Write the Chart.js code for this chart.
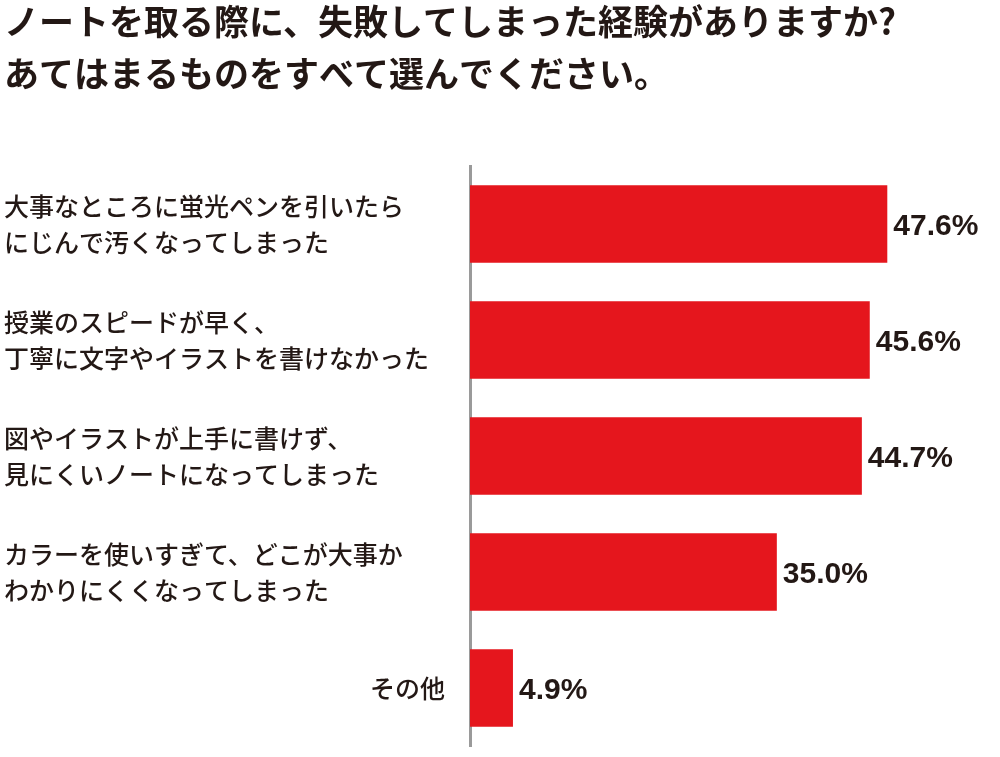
<!DOCTYPE html>
<html><head><meta charset="utf-8">
<script src="https://cdn.jsdelivr.net/npm/chart.js@4"></script>
<style>html,body{margin:0;padding:0;background:#fff}#w{width:1000px;height:757px}</style>
</head><body><div id="w"><canvas id="c"></canvas></div>
<script>
const titleLines = ["ノートを取る際に、失敗してしまった経験がありますか?","あてはまるものをすべて選んでください。"];
const categories = [
 "大事なところに蛍光ペンを引いたら\nにじんで汚くなってしまった",
 "授業のスピードが早く、\n丁寧に文字やイラストを書けなかった",
 "図やイラストが上手に書けず、\n見にくいノートになってしまった",
 "カラーを使いすぎて、どこが大事か\nわかりにくくなってしまった",
 "その他"
];
const values = [47.6, 45.6, 44.7, 35.0, 4.9];
const FONT = '"Noto Sans CJK JP", sans-serif';
const deco = {
 id:'deco',
 afterDraw(ch){
  const c=ch.ctx, y=ch.scales.y, x=ch.scales.x;
  c.save();
  c.fillStyle='#231815';
  c.font='bold 35px '+FONT; c.textBaseline='middle'; c.textAlign='left';
  c.fillText(titleLines[0],4,22,990); c.fillText(titleLines[1],4,74);
  c.font='500 25px '+FONT;
  categories.forEach((t,i)=>{
   const cy=y.getPixelForValue(i); const ls=t.split('\n');
   if(ls.length===1){c.textAlign='right';c.fillText(ls[0],445,cy);}
   else{c.textAlign='left';c.fillText(ls[0],4,cy-18,440);c.fillText(ls[1],4,cy+18,440);}
  });
  c.font='bold 30px "Liberation Sans", Arial, sans-serif'; c.textAlign='left';
  values.forEach((v,i)=>{c.fillText(v.toFixed(1)+'%',x.getPixelForValue(v)+6,y.getPixelForValue(i)+3);});
  c.restore();
 }
};
new Chart(document.getElementById('c'),{
 type:'bar',
 data:{labels:categories,datasets:[{data:values,backgroundColor:'#e5161d',barPercentage:0.67,categoryPercentage:1}]},
 options:{indexAxis:'y',responsive:true,maintainAspectRatio:false,animation:false,
  layout:{padding:{top:166,bottom:11,left:0,right:4}},
  plugins:{legend:{display:false},tooltip:{enabled:false}},
  scales:{
   x:{display:false,min:0,max:60},
   y:{display:true,grid:{display:false},ticks:{display:false},border:{color:'#9a9a9a',width:3},
      afterFit(s){s.width=470;}}
  }},
 plugins:[deco]
});
</script></body></html>
